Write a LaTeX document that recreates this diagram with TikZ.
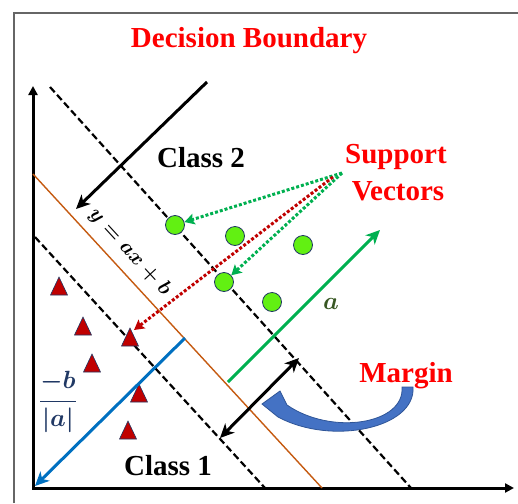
\documentclass[tikz,border=0pt]{standalone}
\usepackage{amsmath}
\usepackage{fontspec}
\setmainfont{Liberation Serif}
\usetikzlibrary{arrows.meta}
\definecolor{tred}{RGB}{255,0,0}
\definecolor{dred}{RGB}{192,0,0}
\definecolor{sgreen}{RGB}{0,176,80}
\definecolor{cgreen}{RGB}{98,240,18}
\definecolor{navy}{RGB}{32,56,100}
\definecolor{lblue}{RGB}{0,112,192}
\definecolor{orng}{RGB}{197,90,17}
\definecolor{agreen}{RGB}{56,87,35}
\definecolor{cblue}{RGB}{68,114,196}
\definecolor{cbord}{RGB}{47,85,151}
\begin{document}
\begin{tikzpicture}[x=1pt,y=-1pt,
  big/.style={font=\fontsize{29}{34}\selectfont\bfseries, inner sep=0pt, anchor=base},
  mth/.style={font=\fontsize{24}{28}\selectfont\boldmath, inner sep=0pt},
  dsh/.style={line width=2.2pt,dash pattern=on 7pt off 3.5pt},
  pt/.style={circle,draw=navy,line width=0.8pt,fill=cgreen,minimum size=19pt,inner sep=0pt},
  tri/.style={fill=dred,draw=navy,line width=0.6pt},
  thk/.style={line width=3pt,-{Stealth[length=14pt,width=13pt,inset=4pt]}},
  dotg/.style={line width=3pt, dash pattern=on 3pt off 2pt, -{Stealth[length=10pt,width=11pt,inset=2pt]}},
]
\useasboundingbox (0,0) rectangle (518,503);
% frame
\draw[black!60, line width=1.2pt] (14,503) -- (14,13) -- (518,13);

% axes
\coordinate (ytop) at (33,86);
\coordinate (O) at (33,488);
\coordinate (xend) at (514,488);
\draw[line width=3pt, {Triangle[length=9pt,width=9pt]}-{Triangle[length=9pt,width=9pt]}] (ytop) -- (O) -- (xend);

% boundary lines
\coordinate (u1) at (50,87);   \coordinate (u2) at (411,488);
\coordinate (l1) at (35,237);  \coordinate (l2) at (265,488);
\coordinate (o1) at (33,174);  \coordinate (o2) at (322,488);
\draw[dsh] (u1) -- (u2);
\draw[dsh] (l1) -- (l2);
\draw[orng, line width=1.4pt] (o1) -- (o2);

% class 2 points
\node[pt] (p1) at (175,225) {};
\node[pt] (p2) at (235,236) {};
\node[pt] (p3) at (303,245) {};
\node[pt] (p4) at (224,282) {};
\node[pt] (p5) at (272,302) {};

% class 1 triangles
\newcommand{\tri}[2]{\filldraw[tri] (#1,#2) -- ++(8.5,18) -- ++(-17,0) -- cycle;}
\tri{59}{277}
\tri{83}{317}
\tri{130}{328}
\tri{92}{354}
\tri{139}{384}
\tri{128}{421}
\coordinate (t3) at (134,330);

% arrows
\coordinate (ka) at (207,82);  \coordinate (kb) at (76,209);
\draw[thk] (ka) -- (kb);
\coordinate (ga) at (228,382); \coordinate (gb) at (380,230);
\draw[thk, sgreen] (ga) -- (gb);
\coordinate (ba) at (185,338); \coordinate (bb) at (35,486);
\draw[thk, lblue] (ba) -- (bb);
\coordinate (ma) at (220,438); \coordinate (mb) at (299,358);
\draw[line width=3pt,{Stealth[length=14pt,width=13pt,inset=4pt]}-{Stealth[length=14pt,width=13pt,inset=4pt]}] (ma) -- (mb);

% curved margin arrow
\filldraw[fill=cblue, draw=cbord, line width=0.8pt]
  (402,387) -- (413,387) .. controls (416,428) and (332,446) .. (278,417)
  -- (262,404) -- (280,391) -- (287,405)
  .. controls (332,436) and (405,424) .. (402,387) -- cycle;

% texts
\node[big, text=tred] (title) at (249,47) {Decision Boundary};
\node[big] (c2) at (201,167) {Class 2};
\node[big] (c1) at (168,475) {Class 1};
\node[big, text=tred] (sv1) at (396,163) {Support};
\node[big, text=tred] (sv2) at (398,200) {Vectors};
\node[big, text=tred] (mg) at (406,382) {Margin};
\node[mth, font=\fontsize{22}{26}\selectfont\boldmath, rotate=-47.4] (eq) at (130,252) {$y = ax + b$};
\node[mth, text=agreen, anchor=base] (alab) at (331,309) {$a$};
\node[mth, text=navy] (frac) at (58,402) {$\displaystyle\frac{-b}{|a|}$};

% support vector pointers
\coordinate (svo) at (342,173);
\coordinate (svr) at (333,177);
\draw[dotg, sgreen] (svo) -- (p1);
\draw[dotg, sgreen] (svo) -- (p4);
\draw[dotg, dred] (svr) -- (t3);
\end{tikzpicture}
\end{document}
